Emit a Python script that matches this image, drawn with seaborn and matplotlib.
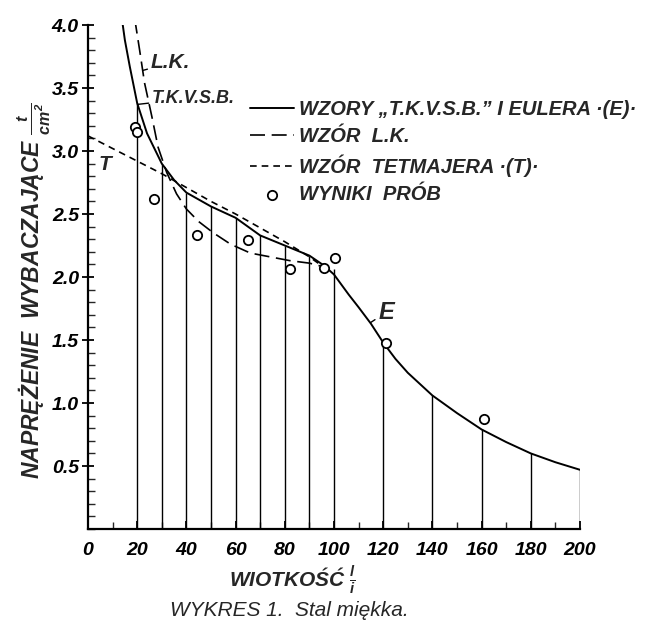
import numpy as np
import matplotlib
matplotlib.use("Agg")
import matplotlib.pyplot as plt
from matplotlib.ticker import FormatStrFormatter
import seaborn as sns

# slenderness l/i and buckling stress t/cm2
tkvsb_x = [14, 15, 17, 20, 24, 30, 35, 40, 50, 60, 70, 80, 90, 96, 100,
           103, 106, 110, 115, 120, 125, 130, 140, 150, 160, 170, 180, 190, 200]
tkvsb_y = [4.02, 3.88, 3.67, 3.38, 3.14, 2.90, 2.77, 2.67, 2.56, 2.47, 2.33,
           2.25, 2.17, 2.09, 2.02, 1.94, 1.86, 1.76, 1.63, 1.48, 1.35, 1.24,
           1.06, 0.92, 0.79, 0.69, 0.60, 0.53, 0.47]

lk_x = [19, 21, 23, 26, 28.5, 32, 36, 40, 45, 51, 58, 66, 74, 82, 90, 96]
lk_y = [4.05, 3.80, 3.54, 3.27, 3.03, 2.83, 2.66, 2.54, 2.44, 2.35, 2.26,
        2.19, 2.16, 2.13, 2.11, 2.08]

tet_x = [0, 10, 20, 30, 40, 50, 60, 70, 80, 90, 95]
tet_y = [3.12, 3.02, 2.92, 2.82, 2.71, 2.60, 2.50, 2.39, 2.28, 2.16, 2.09]

test_x = [19, 20, 27, 44.5, 65, 82, 96, 100.5, 121, 161]
test_y = [3.19, 3.15, 2.62, 2.33, 2.29, 2.06, 2.07, 2.15, 1.48, 0.87]

# ordinates drawn under the curve
grid_x = [20, 30, 40, 50, 60, 70, 80, 90, 100, 120, 140, 160, 180, 200]
grid_top = [3.38, 2.90, 2.67, 2.56, 2.47, 2.33, 2.25, 2.17, 2.06, 1.48,
            1.06, 0.79, 0.60, 0.47]

sns.set_style("ticks")
plt.rcParams['font.family'] = ['Liberation Sans', 'DejaVu Sans']
plt.rcParams['font.style'] = 'italic'
plt.rcParams['font.weight'] = 'bold'
plt.rcParams['axes.labelweight'] = 'bold'
plt.rcParams['mathtext.fontset'] = 'custom'
plt.rcParams['mathtext.it'] = 'Liberation Sans:italic:bold'
plt.rcParams['mathtext.rm'] = 'Liberation Sans:italic:bold'

fig = plt.figure(figsize=(6.45, 6.22), dpi=100)
ax = fig.add_axes([0.1364, 0.1495, 0.7628, 0.8103])

ax.vlines(grid_x, 0, grid_top, color='black', lw=1.0)

sns.lineplot(x=tkvsb_x, y=tkvsb_y, ax=ax, color='black', lw=1.4,
             sort=False, estimator=None,
             label='WZORY „T.K.V.S.B.” I EULERA ·(E)·')
sns.lineplot(x=lk_x, y=lk_y, ax=ax, color='black', lw=1.2,
             sort=False, estimator=None, linestyle=(0, (9, 4)),
             label='WZÓR  L.K.')
sns.lineplot(x=tet_x, y=tet_y, ax=ax, color='black', lw=1.2,
             sort=False, estimator=None, linestyle=(0, (4, 3)),
             label='WZÓR  TETMAJERA ·(T)·')
sns.scatterplot(x=test_x, y=test_y, ax=ax, marker='o', s=45,
                facecolor='white', edgecolor='black', linewidth=1.3,
                zorder=5, label='WYNIKI  PRÓB')

ax.set_xlim(0, 200)
ax.set_ylim(0, 4.0)
ax.set_xticks(range(0, 201, 20))
ax.set_xticks(range(0, 201, 10), minor=True)
ax.set_yticks(np.arange(0.5, 4.01, 0.5))
ax.set_yticks(np.arange(0, 4.01, 0.1), minor=True)
ax.yaxis.set_major_formatter(FormatStrFormatter('%.1f'))
ax.tick_params(axis='both', which='major', direction='inout', length=9,
               width=1.3, labelsize=14, colors='black')
ax.tick_params(axis='both', which='minor', direction='in', length=5,
               width=1.0)
ax.tick_params(axis='x', which='major', direction='in', length=6, pad=9)
ax.tick_params(axis='y', which='major', pad=2)
sns.despine(ax=ax)
for sp in ['left', 'bottom']:
    ax.spines[sp].set_linewidth(1.6)
    ax.spines[sp].set_color('black')

ax.set_ylabel(r'NAPRĘŻENIE  WYBACZAJĄCE $\frac{t}{cm^2}$', fontsize=16.5)
ax.yaxis.set_label_coords(-0.108, 0.474)
ax.yaxis.label.set_va('center')
ax.set_xlabel(r'WIOTKOŚĆ $\frac{l}{i}$', fontsize=15)
ax.xaxis.set_label_coords(0.415, -0.101)
ax.xaxis.label.set_va('center')
fig.text(0.448, 1 - 610 / 622, 'WYKRES 1.  Stal miękka.', fontsize=15,
         weight='normal', ha='center', va='center')

ax.annotate('L.K.', xy=(22.4, 3.64), xytext=(25.5, 3.70), fontsize=15,
            va='center', arrowprops=dict(arrowstyle='-', lw=1.0, color='black',
                                         shrinkA=0, shrinkB=0))
ax.annotate('T.K.V.S.B.', xy=(20.2, 3.37), xytext=(26, 3.42), fontsize=13,
            va='center', arrowprops=dict(arrowstyle='-', lw=1.0, color='black',
                                         shrinkA=0, shrinkB=0))
ax.text(7, 2.89, 'T', fontsize=15, ha='center', va='center')
ax.annotate('E', xy=(115, 1.64), xytext=(118, 1.72), fontsize=17,
            va='center', arrowprops=dict(arrowstyle='-', lw=1.0, color='black',
                                         shrinkA=0, shrinkB=0))

leg = ax.legend(loc='upper left', bbox_to_anchor=(0.329, 0.852),
                frameon=False, fontsize=14.5, handlelength=2.2,
                handletextpad=0.25, labelspacing=0.42, borderpad=0,
                borderaxespad=0)

fig.savefig('out.png', dpi=100, facecolor='white')
